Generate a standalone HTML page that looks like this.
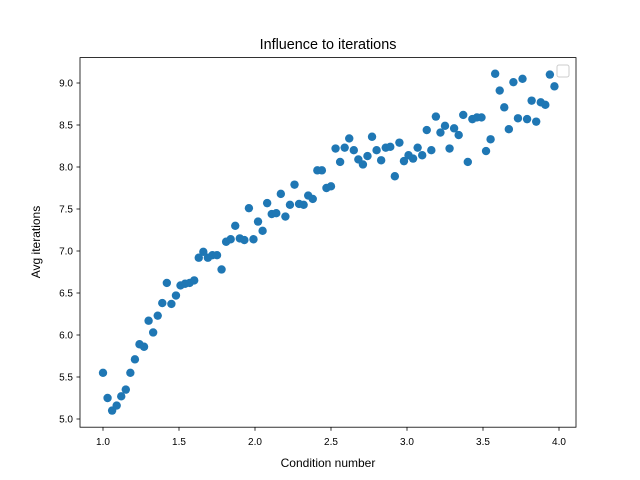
<!DOCTYPE html>
<html><head><meta charset="utf-8"><style>
body{margin:0;background:#fff;}
svg{display:block;font-family:"Liberation Sans","DejaVu Sans",sans-serif;}
</style></head><body>
<svg id="chart" width="640" height="480" viewBox="0 0 640 480">
<rect width="640" height="480" fill="#fff"/>
<text x="328" y="49" text-anchor="middle" font-size="14.4">Influence to iterations</text>
<rect x="80" y="57.6" width="496" height="369.6" fill="none" stroke="#000" stroke-width="0.8"/>
<g id="xticks"></g>
<g id="yticks"></g>
<g id="points"></g>
<rect x="557" y="65" width="12" height="12" rx="2" fill="#fff" stroke="#ccc" stroke-width="1"/>
<text x="328" y="467" text-anchor="middle" font-size="12">Condition number</text>
<text x="0" y="0" transform="translate(40,242) rotate(-90)" text-anchor="middle" font-size="12">Avg iterations</text>
</svg>
<script>
const xStart = 1.0;
const xStep = 0.03;
const yValues = [5.55,5.25,5.10,5.16,5.27,5.35,5.55,5.71,5.89,5.86,6.17,6.03,6.23,6.38,6.62,6.37,6.47,6.59,6.61,6.62,6.65,6.92,6.99,6.92,6.95,6.95,6.78,7.11,7.14,7.30,7.15,7.13,7.51,7.14,7.35,7.24,7.57,7.44,7.45,7.68,7.41,7.55,7.79,7.56,7.55,7.66,7.62,7.96,7.96,7.75,7.77,8.22,8.06,8.23,8.34,8.20,8.09,8.03,8.13,8.36,8.20,8.08,8.23,8.24,7.89,8.29,8.07,8.14,8.10,8.23,8.14,8.44,8.20,8.60,8.41,8.49,8.22,8.46,8.38,8.62,8.06,8.57,8.59,8.59,8.19,8.33,9.11,8.91,8.71,8.45,9.01,8.58,9.05,8.57,8.79,8.54,8.77,8.74,9.10,8.96];
const xTicks = [1.0,1.5,2.0,2.5,3.0,3.5,4.0];
const xTickLabels = ["1.0","1.5","2.0","2.5","3.0","3.5","4.0"];
const yTicks = [5.0,5.5,6.0,6.5,7.0,7.5,8.0,8.5,9.0];
const yTickLabels = ["5.0","5.5","6.0","6.5","7.0","7.5","8.0","8.5","9.0"];

const NS="http://www.w3.org/2000/svg";
const X = v => 103 + (v-1.0)*152;
const Y = v => 419 - (v-5.0)*84;
function mk(tag, attrs){const e=document.createElementNS(NS,tag);for(const k in attrs)e.setAttribute(k,attrs[k]);return e;}
const xg=document.getElementById('xticks'), yg=document.getElementById('yticks'), pg=document.getElementById('points');
xTicks.forEach((t,i)=>{
  const l=mk('line',{x1:X(t),x2:X(t),y1:427.2,y2:430.7,stroke:'#000','stroke-width':0.8});
  
  
  xg.appendChild(l);
  const tx=mk('text',{x:X(t),y:445,'text-anchor':'middle','font-size':10});
  tx.textContent=xTickLabels[i];
  
  
  xg.appendChild(tx);
});
yTicks.forEach((t,i)=>{
  const l=mk('line',{x1:76.5,x2:80,y1:Y(t),y2:Y(t),stroke:'#000','stroke-width':0.8});
  
  
  yg.appendChild(l);
  const tx=mk('text',{x:73,y:Y(t)+3.6,'text-anchor':'end','font-size':10});
  tx.textContent=yTickLabels[i];
  
  
  yg.appendChild(tx);
});
yValues.forEach((v,i)=>{
  const c=mk('circle',{cx:X(xStart+xStep*i),cy:Y(v),r:4.2,fill:'#1f77b4'});
  
  
  pg.appendChild(c);
});
</script>
</body></html>
